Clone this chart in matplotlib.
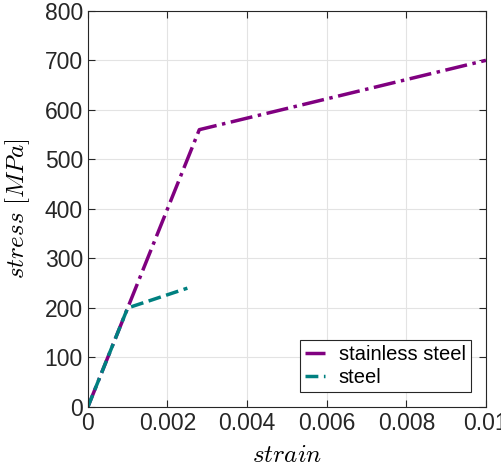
import matplotlib
matplotlib.use('Agg')
import matplotlib.pyplot as plt

# dane
strainStainless = [0, 0.0028, 0.01]
stressStainless = [0, 560, 700]

strainSteel = [0, 0.001, 0.0025]
stressSteel = [0, 200, 240]

xticks = [0, 0.002, 0.004, 0.006, 0.008, 0.01]
xtickLabels = ['0', '0.002', '0.004', '0.006', '0.008', '0.01']
yticks = [0, 100, 200, 300, 400, 500, 600, 700, 800]

plt.rcParams['font.family'] = ['Liberation Sans', 'DejaVu Sans']
plt.rcParams['mathtext.fontset'] = 'cm'

fig = plt.figure(figsize=(5.02, 4.7), dpi=100)
ax = fig.add_axes([0.175, 0.134, 0.793, 0.843])

ax.plot(strainStainless, stressStainless, '-.', color='#800080', linewidth=2.5,
        label='stainless steel')
ax.plot(strainSteel, stressSteel, '--', color='#008080', linewidth=2.5,
        label='steel')

ax.set_xlim(0, 0.01)
ax.set_ylim(0, 800)
ax.set_xticks(xticks)
ax.set_xticklabels(xtickLabels)
ax.set_yticks(yticks)
ax.tick_params(direction='in', top=True, right=True, labelsize=16.5, length=5,
               width=0.8, colors='#262626')
ax.grid(True, color='#e3e3e3', linewidth=0.8)
ax.set_axisbelow(True)
for s in ax.spines.values():
    s.set_color('#262626')
    s.set_linewidth(0.8)

ax.set_xlabel(r'$strain$', fontsize=18, labelpad=6)
ax.set_ylabel(r'$stress\ [MPa]$', fontsize=18, labelpad=9)

leg = ax.legend(loc='lower right', fontsize=14.5, fancybox=False, framealpha=1,
                edgecolor='#262626', handlelength=1.0, handletextpad=0.7,
                borderaxespad=0.75, borderpad=0.25, labelspacing=0.2)
leg.get_frame().set_linewidth(0.8)

fig.savefig('out.png', dpi=100)
